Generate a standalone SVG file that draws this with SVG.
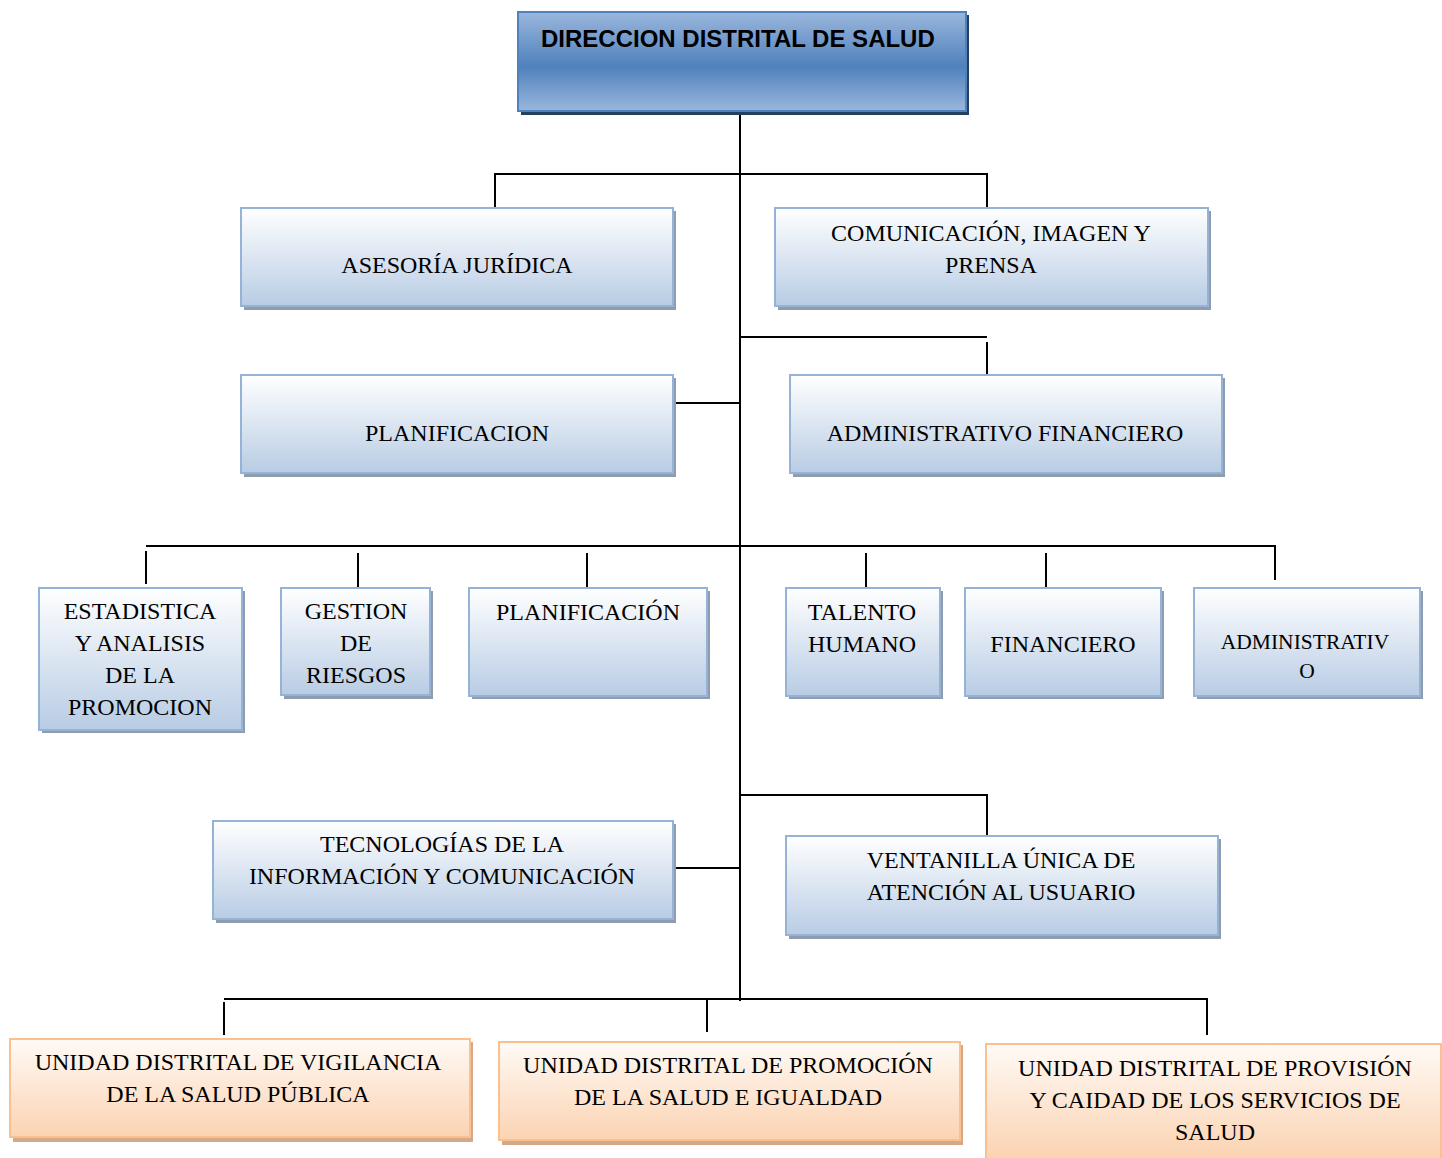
<svg xmlns="http://www.w3.org/2000/svg" width="1442" height="1158" viewBox="0 0 1442 1158">
<defs>
<linearGradient id="gb" x1="0" y1="0" x2="0" y2="1">
<stop offset="0" stop-color="#ffffff"/><stop offset="1" stop-color="#b8cce4"/>
</linearGradient>
<linearGradient id="go" x1="0" y1="0" x2="0" y2="1">
<stop offset="0" stop-color="#fffaf6"/><stop offset="1" stop-color="#fbd3b2"/>
</linearGradient>
<linearGradient id="gt" x1="0" y1="0" x2="0" y2="1">
<stop offset="0" stop-color="#9ab7dc"/><stop offset="0.55" stop-color="#4f81bd"/><stop offset="1" stop-color="#9ab7dc"/>
</linearGradient>
</defs>
<style>
.b{fill:url(#gb);stroke:#95b3d7;stroke-width:2}
.bs{fill:#8e9cae}
.o{fill:url(#go);stroke:#fac090;stroke-width:2}
.os{fill:#d3a98a}
.t{font-family:"Liberation Serif","Times New Roman",serif;font-size:24px;fill:#000;text-anchor:middle}
.c{stroke:#000;stroke-width:2;fill:none}
</style>
<rect width="1442" height="1158" fill="#fff"/>
<g id="connectors">
<path class="c" d="M740 112V1001"/>
<path class="c" d="M495 208V174H987V208"/>
<path class="c" d="M740 337H987M987 342V375"/>
<path class="c" d="M673 403H740"/>
<path class="c" d="M146 546H1275V580M146 551V584M358 553V587M587 553V587M866 553V587M1046 553V587"/>
<path class="c" d="M740 795H987V836"/>
<path class="c" d="M673 868H740"/>
<path class="c" d="M224 999H1207V1035M224 1002V1035M707 999V1032"/>
</g>
<g id="n-direccion">
<rect x="521" y="15" width="448" height="100" fill="#243f60"/>
<rect x="518" y="12" width="448" height="99" fill="url(#gt)" stroke="#4f81bd" stroke-width="2"/>
<text x="541" y="47" font-family="'Liberation Sans',Arial,sans-serif" font-size="24" font-weight="bold" fill="#000">DIRECCION DISTRITAL DE SALUD</text>
</g>
<g id="n-asesoria">
<rect class="bs" x="244" y="211" width="432" height="99"/>
<rect class="b" x="241" y="208" width="432" height="98"/>
<text class="t" x="457" y="273">ASESORÍA JURÍDICA</text>
</g>
<g id="n-comunicacion">
<rect class="bs" x="778" y="211" width="433" height="99"/>
<rect class="b" x="775" y="208" width="433" height="98"/>
<text class="t" x="991" y="241">COMUNICACIÓN, IMAGEN Y</text>
<text class="t" x="991" y="273">PRENSA</text>
</g>
<g id="n-planificacion">
<rect class="bs" x="244" y="378" width="432" height="99"/>
<rect class="b" x="241" y="375" width="432" height="98"/>
<text class="t" x="457" y="441">PLANIFICACION</text>
</g>
<g id="n-admfin">
<rect class="bs" x="793" y="378" width="432" height="99"/>
<rect class="b" x="790" y="375" width="432" height="98"/>
<text class="t" x="1005" y="441">ADMINISTRATIVO FINANCIERO</text>
</g>
<g id="n-estadistica">
<rect class="bs" x="42" y="591" width="203" height="142"/>
<rect class="b" x="39" y="588" width="203" height="142"/>
<text class="t" x="140" y="619">ESTADISTICA</text>
<text class="t" x="140" y="651">Y ANALISIS</text>
<text class="t" x="140" y="683">DE LA</text>
<text class="t" x="140" y="715">PROMOCION</text>
</g>
<g id="n-gestion">
<rect class="bs" x="284" y="591" width="149" height="108"/>
<rect class="b" x="281" y="588" width="149" height="107"/>
<text class="t" x="356" y="619">GESTION</text>
<text class="t" x="356" y="651">DE</text>
<text class="t" x="356" y="683">RIESGOS</text>
</g>
<g id="n-planificacion2">
<rect class="bs" x="472" y="591" width="238" height="108"/>
<rect class="b" x="469" y="588" width="238" height="108"/>
<text class="t" x="588" y="620">PLANIFICACIÓN</text>
</g>
<g id="n-talento">
<rect class="bs" x="789" y="591" width="154" height="108"/>
<rect class="b" x="786" y="588" width="154" height="108"/>
<text class="t" x="862" y="620">TALENTO</text>
<text class="t" x="862" y="652">HUMANO</text>
</g>
<g id="n-financiero">
<rect class="bs" x="968" y="591" width="196" height="108"/>
<rect class="b" x="965" y="588" width="196" height="108"/>
<text class="t" x="1063" y="652">FINANCIERO</text>
</g>
<g id="n-administrativo">
<rect class="bs" x="1197" y="591" width="226" height="108"/>
<rect class="b" x="1194" y="588" width="226" height="108"/>
<text class="t" x="1305" y="649" style="font-size:21.5px">ADMINISTRATIV</text>
<text class="t" x="1307" y="678" style="font-size:21.5px">O</text>
</g>
<g id="n-tecnologias">
<rect class="bs" x="216" y="824" width="460" height="99"/>
<rect class="b" x="213" y="821" width="460" height="98"/>
<text class="t" x="442" y="852">TECNOLOGÍAS DE LA</text>
<text class="t" x="442" y="884">INFORMACIÓN Y COMUNICACIÓN</text>
</g>
<g id="n-ventanilla">
<rect class="bs" x="789" y="839" width="432" height="100"/>
<rect class="b" x="786" y="836" width="432" height="99"/>
<text class="t" x="1001" y="868">VENTANILLA ÚNICA DE</text>
<text class="t" x="1001" y="900">ATENCIÓN AL USUARIO</text>
</g>
<g id="n-vigilancia">
<rect class="os" x="13" y="1042" width="460" height="100"/>
<rect class="o" x="10" y="1039" width="460" height="98"/>
<text class="t" x="238" y="1070">UNIDAD DISTRITAL DE VIGILANCIA</text>
<text class="t" x="238" y="1102">DE LA SALUD PÚBLICA</text>
</g>
<g id="n-promocion">
<rect class="os" x="502" y="1045" width="461" height="100"/>
<rect class="o" x="499" y="1042" width="461" height="98"/>
<text class="t" x="728" y="1073">UNIDAD DISTRITAL DE PROMOCIÓN</text>
<text class="t" x="728" y="1105">DE LA SALUD E IGUALDAD</text>
</g>
<g id="n-provision">
<rect class="o" x="986" y="1044" width="455" height="115"/>
<text class="t" x="1215" y="1076">UNIDAD DISTRITAL DE PROVISIÓN</text>
<text class="t" x="1215" y="1108">Y CAIDAD DE LOS SERVICIOS DE</text>
<text class="t" x="1215" y="1140">SALUD</text>
</g>
</svg>
